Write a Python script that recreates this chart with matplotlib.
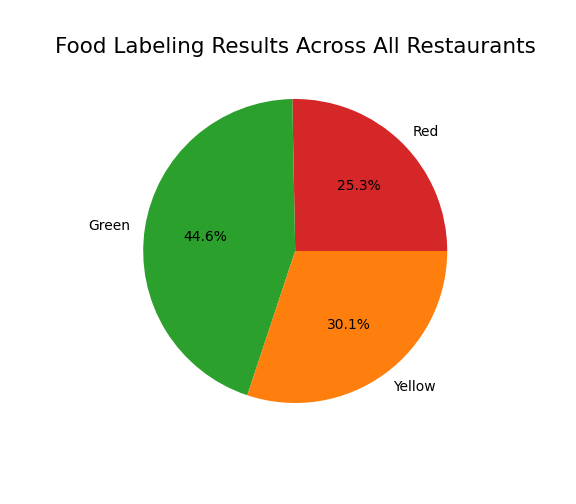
import matplotlib
matplotlib.use("Agg")
import matplotlib.pyplot as plt

labels = ["Red", "Green", "Yellow"]
shares = [25.3, 44.6, 30.1]
colors = ["#d62728", "#2ca02c", "#ff7f0e"]

fig = plt.figure(figsize=(5.76, 5.04), dpi=100)
plt.subplots_adjust(bottom=0.125, top=0.879)
plt.pie(shares, labels=labels, colors=colors, autopct="%1.1f%%")
plt.title("Food Labeling Results Across All Restaurants", fontsize=15.5)
plt.savefig("out.png", dpi=100)
